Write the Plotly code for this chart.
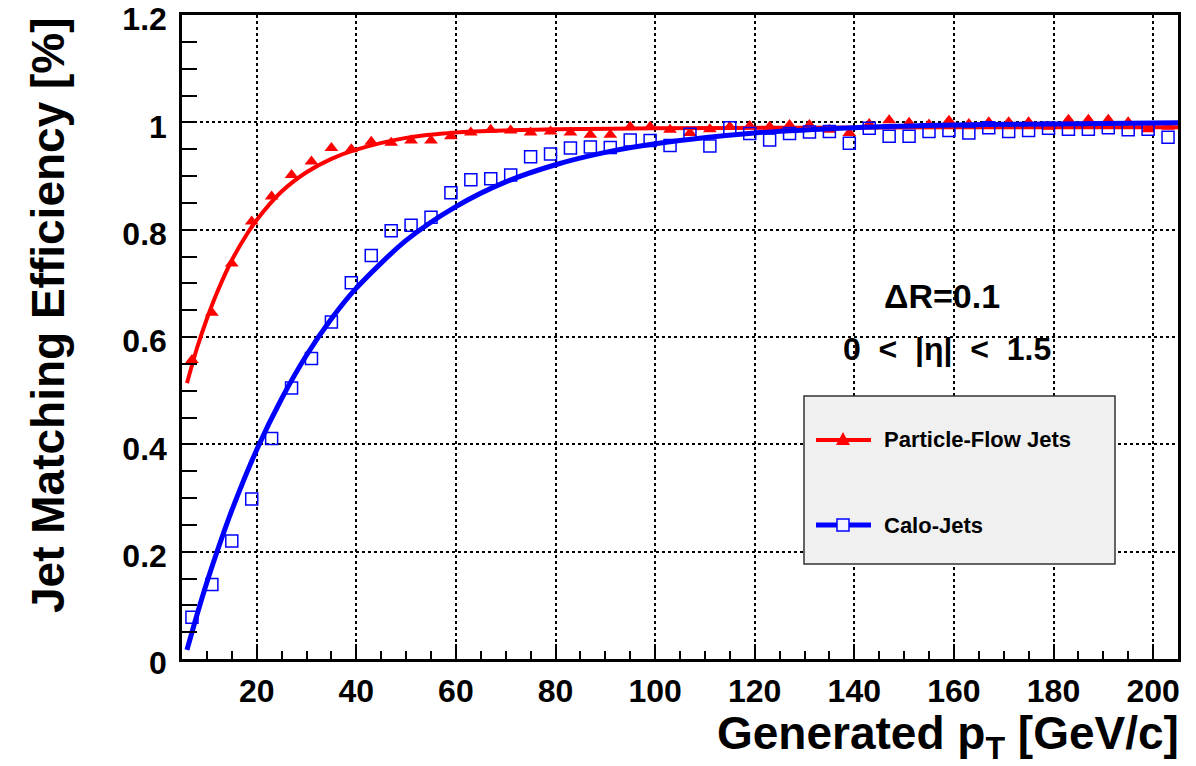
import plotly.graph_objects as go

# Generated jet pT bin centres [GeV/c]
pt_bins = [7, 11, 15, 19, 23, 27, 31, 35, 39, 43, 47, 51, 55, 59, 63, 67, 71, 75, 79, 83,
           87, 91, 95, 99, 103, 107, 111, 115, 119, 123, 127, 131, 135, 139, 143, 147, 151,
           155, 159, 163, 167, 171, 175, 179, 183, 187, 191, 195, 199, 203]

# Matching efficiency per bin
eff_pflow = [0.557, 0.645, 0.737, 0.815, 0.862, 0.902, 0.927, 0.952, 0.950, 0.964,
             0.962, 0.966, 0.966, 0.974, 0.981, 0.986, 0.985, 0.981, 0.983, 0.981,
             0.977, 0.977, 0.992, 0.992, 0.986, 0.980, 0.987, 0.992, 0.993, 0.992,
             0.995, 0.995, 0.986, 0.980, 0.997, 1.004, 0.999, 0.996, 1.003, 0.997,
             1.000, 1.000, 1.000, 0.992, 1.005, 1.005, 1.005, 1.000, 0.987, 0.992]
eff_calo = [0.078, 0.139, 0.220, 0.298, 0.411, 0.505, 0.560, 0.628, 0.701, 0.752,
            0.798, 0.808, 0.823, 0.869, 0.893, 0.895, 0.902, 0.936, 0.941, 0.952,
            0.954, 0.953, 0.967, 0.966, 0.957, 0.978, 0.956, 0.990, 0.979, 0.967,
            0.979, 0.982, 0.983, 0.961, 0.989, 0.974, 0.974, 0.983, 0.985, 0.980,
            0.990, 0.983, 0.985, 0.989, 0.987, 0.987, 0.990, 0.986, 0.987, 0.972]

# Turn-on fit curves
fit_pflow_pt = [6, 8, 10, 12, 15, 18, 20, 25, 30, 35, 40, 50, 60, 70, 80, 100, 130, 160, 205]
fit_pflow_eff = [0.514, 0.579, 0.634, 0.682, 0.743, 0.791, 0.818, 0.871, 0.907, 0.932,
                 0.949, 0.971, 0.981, 0.985, 0.987, 0.989, 0.990, 0.991, 0.991]
fit_calo_pt = [6, 8, 10, 12, 15, 20, 25, 30, 35, 40, 50, 60, 70, 80, 90, 100, 120, 140,
               160, 180, 205]
fit_calo_eff = [0.017, 0.082, 0.143, 0.199, 0.277, 0.390, 0.485, 0.566, 0.634, 0.691,
                0.780, 0.843, 0.889, 0.921, 0.944, 0.960, 0.980, 0.990, 0.995, 0.997, 0.999]

x_tick_vals = [20, 40, 60, 80, 100, 120, 140, 160, 180, 200]
x_tick_text = ["20", "40", "60", "80", "100", "120", "140", "160", "180", "200"]
y_tick_vals = [0, 0.2, 0.4, 0.6, 0.8, 1.0, 1.2]
y_tick_text = ["0", "0.2", "0.4", "0.6", "0.8", "1", "1.2"]

series_names = ["Particle-Flow Jets", "Calo-Jets"]

RED = "#ff0000"
BLUE = "#0000ff"
FONT = "Liberation Sans, Arial, Helvetica, sans-serif"

W, H = 1196, 766
L, R, T, B = 182, 18, 15, 107
X_RANGE = [5, 205]
Y_RANGE = [0, 1.2000001]
PW, PH = W - L - R, H - T - B


def to_x(p):
    """Screen x in pixels -> axis units (used for legend/text placement)."""
    return X_RANGE[0] + (p - L) * (X_RANGE[1] - X_RANGE[0]) / PW


def to_y(p):
    """Screen y in pixels (from top) -> axis units."""
    return Y_RANGE[0] + (H - B - p) * (Y_RANGE[1] - Y_RANGE[0]) / PH


def poly_path(points):
    pts = [f"{to_x(a):.4f},{to_y(b):.5f}" for a, b in points]
    return "M " + " L ".join(pts) + " Z"


fig = go.Figure()

fig.add_trace(go.Scatter(
    x=fit_pflow_pt, y=fit_pflow_eff, mode="lines",
    line=dict(color=RED, width=4, shape="spline", smoothing=0.8),
    hoverinfo="skip", showlegend=False))
fig.add_trace(go.Scatter(
    x=pt_bins, y=eff_pflow, mode="markers", name=series_names[0],
    marker=dict(symbol="triangle-up", size=12, color=RED, line=dict(width=0)),
    showlegend=False))
fig.add_trace(go.Scatter(
    x=fit_calo_pt, y=fit_calo_eff, mode="lines",
    line=dict(color=BLUE, width=5, shape="spline", smoothing=0.8),
    hoverinfo="skip", showlegend=False))
fig.add_trace(go.Scatter(
    x=pt_bins, y=eff_calo, mode="markers", name=series_names[1],
    marker=dict(symbol="square-open", size=12, color=BLUE, line=dict(width=1.5)),
    showlegend=False))

axis_common = dict(
    showline=True, mirror=True, linecolor="black", linewidth=2.5,
    showgrid=True, gridcolor="black", gridwidth=2, griddash="dot",
    zeroline=False, ticks="inside", tickcolor="black",
    ticklabeloverflow="allow", automargin=False,
    tickfont=dict(family=FONT, size=32, color="black", weight="bold"),
)

fig.update_xaxes(
    range=X_RANGE, tickvals=x_tick_vals, ticktext=x_tick_text,
    ticklen=15, tickwidth=1.5, ticklabelstandoff=2,
    minor=dict(dtick=5, tick0=0, ticks="inside", ticklen=8, tickwidth=1.5,
               tickcolor="black", showgrid=False),
    **axis_common)
fig.update_yaxes(
    range=Y_RANGE, tickvals=y_tick_vals, ticktext=y_tick_text,
    ticklen=2, tickwidth=1, ticklabelstandoff=6, ticklabelshift=4,
    minor=dict(dtick=0.05, tick0=0, ticks="inside", ticklen=15, tickwidth=1.5,
               tickcolor="black", showgrid=False),
    **axis_common)

# Legend box drawn by hand
shapes = [
    dict(type="rect", xref="x", yref="y", layer="above",
         x0=to_x(804), x1=to_x(1115), y0=to_y(564), y1=to_y(396),
         fillcolor="#f0f0f0", line=dict(color="#333333", width=1.5)),
    dict(type="line", xref="x", yref="y", layer="above",
         x0=to_x(816), x1=to_x(871), y0=to_y(440), y1=to_y(440),
         line=dict(color=RED, width=4)),
    dict(type="path", xref="x", yref="y", layer="above",
         path=poly_path([(836, 445), (850, 445), (843, 432)]),
         fillcolor=RED, line=dict(width=0)),
    dict(type="line", xref="x", yref="y", layer="above",
         x0=to_x(816), x1=to_x(871), y0=to_y(525), y1=to_y(525),
         line=dict(color=BLUE, width=5)),
    dict(type="path", xref="x", yref="y", layer="above",
         path=poly_path([(837, 519), (849, 519), (849, 531), (837, 531)]),
         fillcolor="#f4f4ff", line=dict(color=BLUE, width=1.5)),
]

annotations = [
    dict(text=series_names[0], xref="x", yref="y", x=to_x(882), y=to_y(439),
         xanchor="left", yanchor="middle", showarrow=False,
         font=dict(family=FONT, size=22, color="black", weight="bold")),
    dict(text=series_names[1], xref="x", yref="y", x=to_x(882), y=to_y(525),
         xanchor="left", yanchor="middle", showarrow=False,
         font=dict(family=FONT, size=22, color="black", weight="bold")),
    dict(text="ΔR=0.1",
         xref="x", yref="y", x=to_x(942), y=to_y(296),
         xanchor="center", yanchor="middle", showarrow=False,
         font=dict(family=FONT, size=34, color="black", weight="bold")),
    dict(text="0&nbsp; &lt;&nbsp; |η|&nbsp; &lt;&nbsp; 1.5",
         xref="x", yref="y", x=to_x(947), y=to_y(349),
         xanchor="center", yanchor="middle", showarrow=False,
         font=dict(family=FONT, size=32, color="black", weight="bold")),
    dict(text="Jet Matching Efficiency [%]", textangle=-90,
         xref="paper", yref="paper", x=(48 - L) / PW, y=(H - B - 315) / PH,
         xanchor="center", yanchor="middle", showarrow=False,
         font=dict(family=FONT, size=46, color="black", weight="bold")),
    dict(text="Generated p<sub>T</sub> [GeV/c]",
         xref="paper", yref="paper", x=(1181 - L) / PW, y=(H - B - 705) / PH,
         xanchor="right", yanchor="top", showarrow=False,
         font=dict(family=FONT, size=46, color="black", weight="bold")),
]

fig.update_layout(
    width=W, height=H,
    margin=dict(l=L, r=R, t=T, b=B, pad=0, autoexpand=False),
    paper_bgcolor="white", plot_bgcolor="white",
    showlegend=False,
    shapes=shapes, annotations=annotations,
)

fig.write_html("out.html")
